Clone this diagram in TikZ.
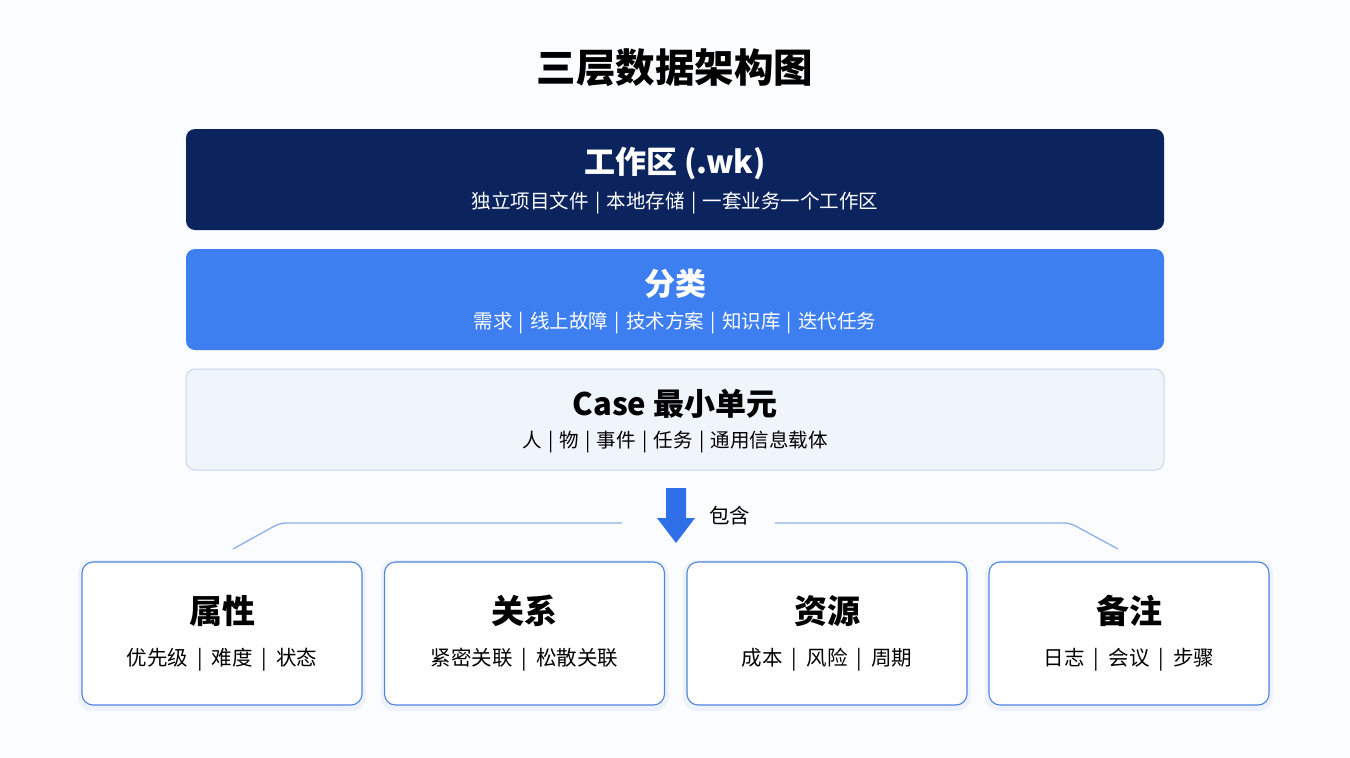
\documentclass[tikz,border=0pt]{standalone}
\usepackage{fontspec}
\setmainfont{Noto Sans CJK SC}
\definecolor{navy}{HTML}{0B245E}
\definecolor{midblue}{HTML}{3D7EF0}
\definecolor{pale}{HTML}{F0F4FB}
\definecolor{paleline}{HTML}{C9D6EE}
\definecolor{boxline}{HTML}{4F84DC}
\definecolor{arrowblue}{HTML}{2F6FE8}
\definecolor{linkline}{HTML}{8EB0E8}
\definecolor{bg}{HTML}{FBFCFE}
\definecolor{halo}{HTML}{EEF2FA}
\newcommand{\sepA}{\hspace{6.3pt}|\hspace{6.3pt}}
\newcommand{\sepB}{\hspace{9pt}|\hspace{9pt}}
\tikzset{
  layer/.style={rounded corners=9pt, minimum width=978pt, minimum height=101pt, inner sep=0pt},
  cat/.style={rounded corners=11pt, draw=boxline, line width=1.1pt, fill=white, minimum width=280pt, minimum height=143pt, inner sep=0pt},
  halobox/.style={rounded corners=14pt, fill=halo, minimum width=288pt, minimum height=151pt, inner sep=0pt},
  ltitle/.style={font=\fontsize{31}{36}\selectfont\bfseries, inner sep=0pt},
  lsub/.style={font=\fontsize{19.5}{23}\selectfont, inner sep=0pt},
  ctitle/.style={font=\fontsize{33}{38}\selectfont\bfseries, inner sep=0pt},
  csub/.style={font=\fontsize{20.5}{24}\selectfont, inner sep=0pt},
  link/.style={draw=linkline, line width=1.3pt},
}
\begin{document}
\begin{tikzpicture}[x=1pt,y=-1pt]
\fill[bg] (0,0) rectangle (1350,758);
\useasboundingbox (0,0) rectangle (1350,758);
\node[font=\fontsize{39.5}{44}\selectfont\bfseries, inner sep=0pt] (title) at (675,68) {三层数据架构图};
% layers
\node[layer, fill=navy] (l1) at (675,179.5) {};
\node[ltitle, text=white] (l1t) at (675,163) {工作区 (.wk)};
\node[lsub, text=white] (l1s) at (675,203) {独立项目文件\sepA 本地存储\sepA 一套业务一个工作区};
\node[layer, fill=midblue] (l2) at (675,299.5) {};
\node[ltitle, text=white] (l2t) at (675,284) {分类};
\node[lsub, text=white] (l2s) at (675,323) {需求\sepA 线上故障\sepA 技术方案\sepA 知识库\sepA 迭代任务};
\node[layer, fill=pale, draw=paleline, line width=1pt] (l3) at (675,419.5) {};
\node[ltitle, text=black] (l3t) at (675,404) {Case 最小单元};
\node[lsub, text=black] (l3s) at (675,442) {人\sepA 物\sepA 事件\sepA 任务\sepA 通用信息载体};
% arrow
\fill[arrowblue] (666,488) -- (686,488) -- (686,518) -- (695,518) -- (676,543) -- (657,518) -- (666,518) -- cycle;
\node[font=\fontsize{20.5}{24}\selectfont, inner sep=0pt, anchor=west] (inc) at (709,516) {包含};
% categories
\foreach \cx in {222,524.5,827,1129} \node[halobox] at (\cx,635.5) {};
\node[cat] (c1) at (222,633.5) {};
\node[cat] (c2) at (524.5,633.5) {};
\node[cat] (c3) at (827,633.5) {};
\node[cat] (c4) at (1129,633.5) {};
\node[ctitle] at (222,611) {属性};
\node[csub] at (222,660) {优先级\sepB 难度\sepB 状态};
\node[ctitle] at (524.5,611) {关系};
\node[csub] at (524.5,660) {紧密关联\sepB 松散关联};
\node[ctitle] at (827,611) {资源};
\node[csub] at (827,660) {成本\sepB 风险\sepB 周期};
\node[ctitle] at (1129,611) {备注};
\node[csub] at (1129,660) {日志\sepB 会议\sepB 步骤};
% connectors
\coordinate (la) at (622,523);
\coordinate (ra) at (775,523);
\draw[link, rounded corners=6pt] (la) -- (280,523) -- (233,549);
\draw[link, rounded corners=6pt] (ra) -- (1070,523) -- (1118,549);
\end{tikzpicture}
\end{document}
